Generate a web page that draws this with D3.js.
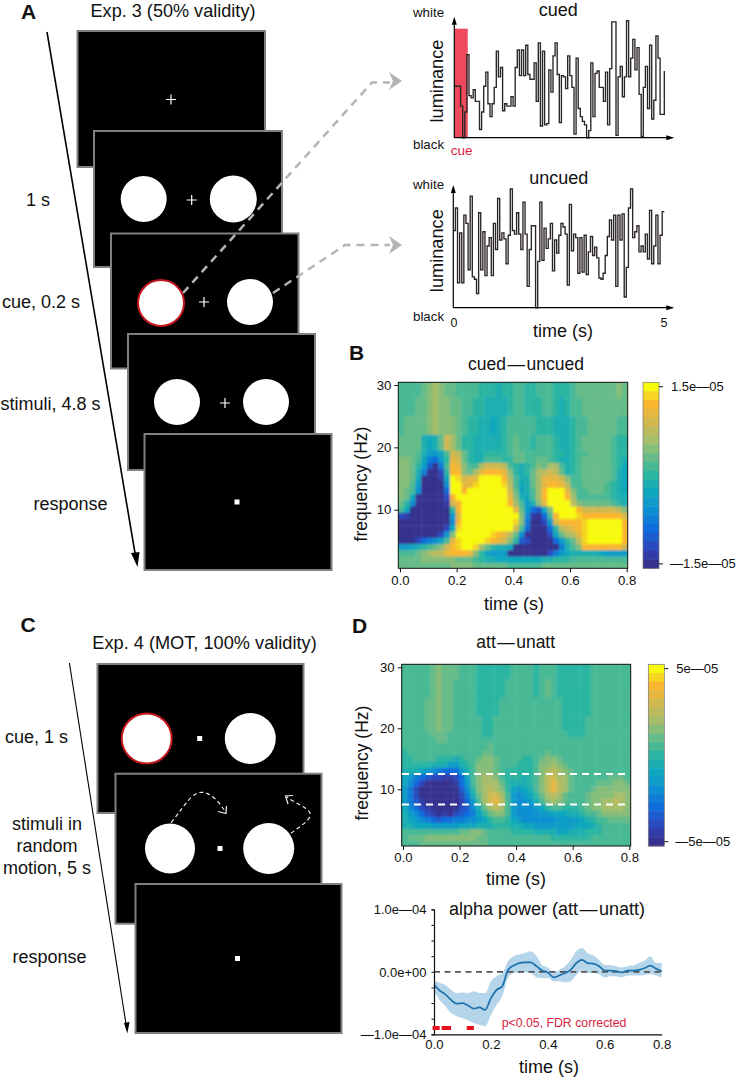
<!DOCTYPE html>
<html><head><meta charset="utf-8">
<script src="https://cdn.jsdelivr.net/npm/d3@7"></script>
<style>html,body{margin:0;background:#fff}svg{display:block}text{font-family:"Liberation Sans",Arial,sans-serif;fill:#111}</style>
</head><body><svg id="c" width="739" height="1079"><defs><filter id="soft" x="-2%" y="-2%" width="104%" height="104%"><feGaussianBlur stdDeviation="0.8"/></filter><filter id="soft2" x="-2%" y="-2%" width="104%" height="104%"><feGaussianBlur stdDeviation="0.35"/></filter></defs></svg>
<script>
// ---------- data ----------
const cuedTrace=[44,44,44,27,0,22,71,36,34,41,31,31,7,22,44,56,29,18,29,43,74,52,60,23,29,27,27,35,27,60,75,53,75,53,79,54,50,50,64,31,81,10,74,11,12,58,39,70,81,54,13,53,52,42,70,53,43,3,68,25,18,14,11,0,6,64,18,55,57,43,43,31,56,11,59,99,99,2,52,61,35,52,100,52,68,84,58,77,37,1,43,61,25,79,16,32,87,68,20,20,57];
const uncuedTrace=[65,84,21,63,21,78,71,32,94,26,24,12,80,32,64,27,52,59,27,71,49,92,57,63,58,37,61,100,65,62,80,62,49,89,62,18,49,69,69,0,39,89,40,67,50,58,71,31,57,46,61,71,68,62,19,87,48,62,59,29,59,30,61,28,47,60,44,51,42,25,24,29,44,60,74,57,78,18,78,57,79,9,34,84,100,59,64,69,47,52,47,62,41,82,37,52,78,37,61,81,81];
const cueSpan=[0,0.32];
const rowEdges=[30.5,28,25,22,19.5,18.5,17.5,16.5,15.5,14.5,13.5,12.5,11.5,10.5,9.5,8.5,7.5,6.5,5.5,4.5,3.5,2.5,1.5,0.5];
const heatB=[
[1,1,1,1,2,3,4,3,2,2,1,1,1,1,0,0,0,-1,0,0,1,1,0,0,1,1,1,0,0,0,1,2,2,2,2,2,2,2,3,2],
[1,1,1,2,2,3,4,3,3,2,2,1,1,0,0,-1,-1,-1,-1,0,1,1,0,0,0,1,1,0,-1,0,1,1,2,2,2,2,2,2,2,2],
[1,2,2,2,2,3,4,3,3,3,2,1,0,0,-1,-1,-2,-1,0,1,1,1,1,1,0,0,0,-1,-1,-1,0,1,1,2,2,2,2,2,1,1],
[2,2,2,2,-1,-2,-1,2,6,4,2,0,0,-1,-1,-1,-1,-1,0,1,2,1,1,0,1,1,1,0,-1,-1,0,1,2,2,2,2,2,1,0,0],
[2,2,2,1,-1,-3,-3,-2,1,6,5,2,0,-1,-1,0,0,0,0,1,2,2,1,1,1,1,1,0,0,-1,0,1,1,2,2,2,2,1,0,0],
[3,3,2,1,-2,-5,-6,-3,0,7,6,2,0,-1,-1,1,1,1,0,0,2,2,1,1,2,2,1,0,-1,-1,0,1,2,2,2,2,2,1,0,-1],
[3,3,2,0,-3,-7,-10,-5,1,8,7,3,1,1,4,6,6,6,5,1,0,-1,0,1,3,2,4,4,1,-1,0,1,2,2,2,2,2,1,0,-2],
[3,3,2,-1,-5,-10,-10,-8,0,8,8,3,2,4,7,8,8,8,7,3,0,-1,0,2,4,5,6,5,2,-1,0,1,2,2,2,2,2,1,-1,-2],
[3,3,2,-2,-10,-10,-10,-9,-2,10,9,6,7,7,10,10,10,10,8,4,1,-1,-1,2,4,7,7,7,6,3,1,1,2,2,2,2,2,1,-1,-2],
[3,3,1,-3,-10,-10,-10,-10,-4,10,10,7,7,9,10,10,10,10,9,5,1,-2,-1,2,4,7,8,8,7,5,1,1,2,2,2,2,1,0,-1,-2],
[3,2,1,-4,-10,-10,-10,-10,-6,10,10,8,10,10,10,10,10,10,10,6,2,-2,-1,1,4,8,10,10,10,7,3,1,1,2,2,2,1,0,-1,-2],
[3,2,-2,-10,-10,-10,-10,-10,-8,8,10,10,10,10,10,10,10,10,10,7,3,-1,-2,1,4,8,10,10,10,8,4,1,1,1,1,1,1,0,-1,-1],
[2,0,-4,-10,-10,-10,-10,-10,-9,6,8,10,10,10,10,10,10,10,10,8,4,1,-3,-1,3,7,10,10,10,10,5,3,2,2,2,2,2,1,0,-1],
[1,-2,-10,-10,-10,-10,-10,-10,-10,0,8,10,10,10,10,10,10,10,10,10,7,2,-3,-6,-7,-2,3,10,10,10,10,8,6,6,6,6,6,6,5,3],
[-8,-9,-10,-10,-10,-10,-10,-10,-10,-3,7,10,10,10,10,10,10,10,10,10,10,3,-4,-9,-10,-6,1,8,10,10,10,9,8,8,8,8,8,8,8,6],
[-10,-10,-10,-10,-10,-10,-10,-10,-10,-4,8,10,10,10,10,10,10,10,10,10,9,3,-5,-10,-10,-8,-3,6,8,8,8,8,9,10,10,10,10,10,10,8],
[-10,-10,-10,-10,-10,-10,-10,-10,-8,-2,9,10,10,10,10,10,10,10,10,10,6,1,-6,-10,-10,-10,-6,0,5,6,7,8,9,10,10,10,10,10,10,8],
[-10,-10,-10,-10,-10,-10,-10,-8,-3,3,10,10,10,10,10,10,9,8,7,5,2,-4,-10,-10,-10,-10,-8,-2,2,4,5,7,9,10,10,10,10,10,10,8],
[-10,-10,-10,-8,-6,-5,-4,-2,1,7,9,10,10,10,10,9,8,7,6,3,0,-7,-8,-10,-10,-10,-10,-6,-3,0,2,5,9,10,10,10,10,10,10,8],
[-3,-3,-2,-1,0,1,2,3,6,8,9,10,10,9,4,2,0,-1,-1,-2,-10,-10,-10,-10,-10,-10,-10,-10,-5,-1,1,3,8,8,8,8,8,8,8,6],
[1,1,1,2,3,4,5,5,7,8,8,8,7,3,0,-2,-3,-3,-3,-10,-10,-10,-10,-10,-10,-10,-8,-5,-3,-2,-1,-1,-1,-1,-1,-2,-3,-3,-3,-3],
[2,2,2,2,3,3,3,3,3,3,2,2,2,1,0,-1,-1,-2,-2,-2,-2,-2,-2,-2,-2,-1,-1,0,0,0,1,1,1,1,1,1,1,1,1,1],
[2,2,2,2,2,2,2,2,2,3,3,3,3,2,2,2,2,2,2,1,1,1,1,1,1,2,2,2,2,2,2,2,2,2,2,2,2,2,2,2]];
const heatD=[
[1,1,1,1,1,2,3,2,2,2,1,1,1,0,0,0,0,0,0,1,1,1,1,0,1,1,1,0,0,0,0,0,0,1,1,1,1,1,1,1],
[1,1,1,1,1,2,3,2,2,1,1,1,1,0,0,0,0,0,1,1,1,1,1,0,1,2,1,0,0,0,0,0,0,1,1,1,1,1,1,1],
[1,1,1,1,2,2,3,2,2,1,1,1,1,0,0,0,0,1,1,1,1,1,1,1,1,1,1,1,0,0,0,0,0,1,1,1,1,1,1,1],
[1,1,1,1,2,2,3,2,2,1,1,1,1,1,0,0,1,1,1,1,1,1,1,1,1,1,1,1,0,0,0,0,1,1,1,1,1,1,1,1],
[1,1,1,1,1,2,2,2,1,1,1,1,1,1,0,0,1,1,1,1,1,1,1,1,1,1,1,1,1,0,0,0,1,1,1,1,1,1,1,1],
[1,1,1,1,1,1,2,2,1,1,1,1,1,1,1,1,1,1,1,1,1,1,1,1,1,1,1,1,1,1,1,1,1,1,1,1,1,1,1,1],
[1,1,1,1,1,1,1,1,1,1,1,1,1,1,1,2,1,1,1,1,1,1,1,1,1,1,1,1,1,1,1,1,1,1,1,1,1,1,1,1],
[0,1,1,1,1,1,1,1,1,1,1,1,1,1,2,2,1,1,1,1,1,1,1,1,1,2,1,1,1,1,1,1,1,1,1,1,1,1,1,1],
[0,0,1,1,1,1,0,0,0,-1,0,1,1,2,3,3,2,1,1,1,1,0,0,1,2,3,3,2,1,1,1,1,1,1,1,1,1,1,1,1],
[0,0,0,0,0,-1,-1,-1,-3,-3,-1,0,1,3,3,3,2,1,1,1,0,0,0,1,3,3,4,3,2,1,1,1,1,1,1,1,1,1,1,1],
[-1,-1,-1,-2,-3,-4,-5,-6,-6,-6,-3,-1,1,3,3,3,2,1,0,0,0,0,0,1,3,4,5,4,3,2,1,1,1,1,1,1,1,1,1,1],
[-2,-3,-5,-6,-7,-8,-8,-9,-9,-8,-6,-2,1,3,4,4,3,1,0,0,0,-1,0,1,3,5,6,4,4,2,1,1,1,1,1,1,2,2,2,1],
[-2,-4,-6,-8,-10,-10,-10,-10,-10,-9,-6,-3,1,3,4,4,4,2,0,-1,-1,-1,0,1,3,5,7,5,4,2,1,1,1,1,2,2,2,3,3,2],
[-3,-5,-8,-10,-10,-10,-10,-10,-10,-10,-7,-4,0,3,4,5,4,3,0,-2,-3,-2,-1,1,3,5,7,5,4,2,1,1,1,2,3,3,3,3,3,3],
[-3,-5,-8,-10,-10,-10,-10,-10,-10,-10,-8,-5,-1,2,4,6,6,4,1,-3,-4,-3,-2,0,2,4,5,4,2,1,1,1,2,3,3,3,3,4,4,3],
[-3,-5,-7,-9,-10,-10,-10,-10,-10,-10,-9,-6,-3,1,4,6,7,5,1,-3,-4,-4,-3,-1,1,3,4,3,2,1,1,1,2,3,3,4,4,5,4,3],
[-2,-4,-6,-8,-9,-10,-10,-10,-10,-10,-8,-7,-4,-1,2,4,5,4,1,-3,-4,-4,-4,-3,-2,0,1,1,0,0,0,1,2,3,3,4,4,4,4,3],
[-1,-3,-4,-6,-8,-9,-10,-9,-10,-8,-7,-6,-5,-2,0,2,3,3,1,-3,-4,-4,-4,-4,-3,-3,-2,-2,-2,-1,-1,0,1,1,2,3,3,3,3,3],
[-1,-2,-3,-4,-5,-6,-7,-6,-6,-5,-5,-4,-4,-3,-2,0,1,1,0,-2,-3,-4,-4,-4,-4,-4,-4,-3,-3,-3,-3,-2,-1,0,1,1,2,2,2,2],
[-1,-1,-2,-2,-2,-3,-3,-3,-3,-3,-2,-2,-2,-1,-1,-1,0,0,0,-1,-1,-2,-2,-3,-3,-3,-3,-3,-3,-3,-2,-2,-2,-1,0,1,1,1,1,1],
[1,1,1,1,1,1,1,1,1,1,2,2,3,3,2,1,1,1,1,0,0,0,0,-1,-1,-1,-1,-2,-2,-1,-1,-1,0,0,0,1,1,1,1,1],
[1,2,2,2,3,3,3,3,3,3,3,3,3,2,2,1,1,1,1,1,1,1,1,1,1,1,0,0,0,0,0,0,0,1,1,1,1,1,1,1],
[1,1,1,2,2,2,2,2,2,2,2,2,2,2,2,1,1,1,1,1,1,1,1,1,1,1,1,1,1,1,1,1,1,1,1,1,1,1,1,1]];
const colorLevels=[10,9,8,7,6,5,4,3,2,1,0,-1,-2,-3,-4,-5,-6,-7,-8,-9,-10];
const colorDomain=[-10,-8,-6,-4,-2,0,2,4,6,8,9,10];
const colorRange=["#36308e","#2a4ac0","#0f6cdc","#0d8ed2","#0ea7bd","#2ab5a2","#66bc88","#a6bd6a","#d0b94f","#fbb62f","#f6d523","#f8fa0d"];
const alphaBand=[7.5,12.5];
const alphaTime=[0,.02,.04,.06,.08,.10,.12,.14,.16,.18,.20,.22,.24,.26,.28,.30,.32,.34,.36,.38,.40,.42,.44,.46,.48,.50,.52,.54,.56,.58,.60,.62,.64,.66,.68,.70,.72,.74,.76,.78,.80];
const alphaMean=[-2.1,-3.0,-3.6,-4.5,-5.1,-5.0,-5.4,-5.9,-5.7,-6.1,-4.2,-2.9,-2.3,0.3,1.0,1.4,1.5,1.5,0.9,0.2,-0.1,-0.9,-0.6,-0.2,0.3,1.4,1.9,1.4,1.3,0.9,0.2,0.2,0.1,-0.1,0.2,0.2,0.3,0.6,1.0,0.5,0.1];
const alphaUpper=[-1.3,-1.8,-2.1,-2.9,-3.4,-3.3,-3.4,-3.1,-3.4,-3.4,-1.5,-0.7,-0.2,1.7,2.5,2.8,3.0,3.3,2.5,1.1,0.7,-0.1,0.3,0.9,1.9,3.3,3.8,3.0,2.6,1.9,1.1,1.1,0.9,0.7,0.9,1.0,1.4,1.8,2.5,1.4,1.4];
const alphaLower=[-3.1,-4.5,-5.5,-6.6,-7.1,-7.4,-7.8,-8.2,-8.5,-8.7,-6.9,-5.3,-3.9,-1.0,-0.2,-0.1,-0.1,-0.2,-0.9,-1.0,-1.0,-1.5,-1.5,-1.7,-1.5,-0.5,0.2,-0.2,-0.2,-0.4,-0.9,-0.7,-0.7,-0.9,-0.6,-0.6,-0.6,-0.5,-0.4,-0.6,-0.9];
const sigSpans=[[-0.005,0.02],[0.027,0.06],[0.115,0.14]];
const timeTicks=[0,0.2,0.4,0.6,0.8];
const freqTicks=[10,20,30];

// ---------- helpers ----------
const svg=d3.select("#c");
const color=d3.scaleLinear().domain(colorDomain).range(colorRange);
function txt(x,y,s,size,opt={}){
  const t=svg.append("text").attr("x",x).attr("y",y).attr("dominant-baseline","central")
    .attr("font-size",size).attr("text-anchor",opt.anchor||"start").text(s);
  if(opt.weight)t.attr("font-weight",opt.weight).style("font-weight",opt.weight);
  if(opt.fill)t.style("fill",opt.fill);
  if(opt.rot)t.attr("transform",`rotate(${opt.rot} ${x} ${y})`);
  return t;
}
function frame(x,y,w,h){svg.append("rect").attr("x",x).attr("y",y).attr("width",w).attr("height",h).attr("fill","#000").attr("stroke","#808080").attr("stroke-width",2);}
function disc(x,y,r,red){svg.append("circle").attr("cx",x).attr("cy",y).attr("r",r).attr("fill","#fff").attr("stroke",red?"#c4161c":"none").attr("stroke-width",red?2:0);}
function cross(x,y){svg.append("path").attr("d",`M${x-5},${y}H${x+5}M${x},${y-5}V${y+5}`).attr("stroke","#fff").attr("stroke-width",1.2).attr("fill","none");}
function sq(x,y){svg.append("rect").attr("x",x-2.5).attr("y",y-2.5).attr("width",5).attr("height",5).attr("fill","#fff");}
function line(d,c,w,dash){const p=svg.append("path").attr("d",d).attr("fill","none").attr("stroke",c).attr("stroke-width",w);if(dash)p.attr("stroke-dasharray",dash);return p;}
function poly(d,c){svg.append("path").attr("d",d).attr("fill",c);}

// ---------- panel A, C schematics ----------
frame(77.5,31,187.5,136);
cross(171,99.5);
frame(94,131,188,136);disc(143.7,199,23);disc(233.3,199,23.5);cross(191.7,200);
frame(111,233.5,187.5,135);disc(161,303,23,true);disc(250,302,23);cross(204,302);
frame(128,334,187,136);disc(177,402,23);disc(266,402,23);cross(225,403);
frame(144.5,434,187,136);sq(237,502);
line("M47,32L135.5,556","#000",1.6);poly("M137.5,567L131,553L139.5,552Z","#000");
line("M183,293L349,108L372,82.5H390","#b4b4b4",2.5,"8 6");
line("M273,293L345,245H390","#b4b4b4",2.5,"8 6");
poly("M389,72L402,81L389,90L393,81Z","#b4b4b4");
poly("M389,236L402,245L389,254L393,245Z","#b4b4b4");

frame(97.5,664,206,149);disc(146.7,738.5,25,true);disc(250.3,738.5,25.5);sq(199.7,738.5);
frame(115.5,773.7,206,150);disc(170,848.5,25);disc(268.7,848.5,25.5);sq(220,848.5);
line("M171,822.7C186,804 192,792 202,792.3C212,793 220,803 226,813","#eee",1.2,"4 3");
line("M218,811.5L226,813.5L226.5,806","#eee",1.2);
line("M291,833.3C300,826 312,820 310,813C307,807 294,803 286.7,796.7","#eee",1.2,"4 3");
line("M293,795.5L285.5,796L288,804","#eee",1.2);
frame(135.5,884,206,149);sq(237.5,958.5);
line("M69.4,663L126.3,1026","#000",1.1);poly("M127.3,1033.5L124,1023L129.5,1022Z","#000");

txt(21,11,"A",21,{weight:"bold"});
txt(173,11,"Exp. 3 (50% validity)",18.1,{anchor:"middle"});
txt(26,200,"1 s",18);
txt(2,302,"cue, 0.2 s",18);
txt(0.5,404,"stimuli, 4.8 s",18);
txt(33.5,504,"response",18);
txt(20.5,624,"C",21,{weight:"bold"});
txt(204.5,643,"Exp. 4 (MOT, 100% validity)",18.2,{anchor:"middle"});
txt(5,737,"cue, 1 s",18);
txt(47,824,"stimuli in",18,{anchor:"middle"});
txt(47,846,"random",18,{anchor:"middle"});
txt(47,868,"motion, 5 s",18,{anchor:"middle"});
txt(12.5,957,"response",18);
txt(349,352,"B",21,{weight:"bold"});
txt(352,625,"D",21,{weight:"bold"});

// ---------- luminance traces ----------
function trace(vals,y0,y100,x0,x1,title,ty,lumY,wY,bY,span){
  const x=d3.scaleLinear().domain([0,5]).range([x0,x1]);
  const y=d3.scaleLinear().domain([0,100]).range([y0,y100]);
  if(span)svg.append("rect").attr("x",x(span[0])).attr("width",x(span[1])-x(span[0])).attr("y",y(100)+8).attr("height",y0-y(100)-8).attr("fill","#ee4a5c");
  const l=d3.line().x((d,i)=>x(i*5/(vals.length-1))).y(d=>y(d)).curve(d3.curveStepAfter);
  svg.append("path").attr("d",l(vals)).attr("fill","none").attr("stroke","#2b2526").attr("stroke-width",1.35).attr("filter","url(#soft2)");
  line(`M${x0},${y0}V${y100-1}`,"#000",1.2);
  poly(`M${x0-2.5},${y100+4}L${x0},${y100-4}L${x0+2.5},${y100+4}Z`,"#000");
  line(`M${x0},${y0}H${x1+3}`,"#000",1.2);
  poly(`M${x1+2},${y0-2.5}L${x1+10},${y0}L${x1+2},${y0+2.5}Z`,"#000");
  txt((x0+x1)/2+(title==="cued"?-1:0),ty,title,18,{anchor:"middle"});
  txt(437,lumY,"luminance",18.2,{anchor:"middle",rot:-90});
  txt(413,wY,"white",13.3);txt(413,bY,"black",13.3);
}
trace(cuedTrace,137.7,20.7,454.3,664.3,"cued",9.5,81,12,144,cueSpan);
txt(450.7,150.7,"cue",13.5,{fill:"#d9243f"});
trace(uncuedTrace,307.7,189,453.3,664.3,"uncued",178,250.7,184,316,null);
txt(454,323,"0",12.5,{anchor:"middle"});
txt(664,323,"5",12.5,{anchor:"middle"});
txt(563,331,"time (s)",18,{anchor:"middle"});

// ---------- heatmaps ----------
function heat(o){
  const clipId="clip"+o.id;
  svg.select("defs").append("clipPath").attr("id",clipId).append("rect").attr("x",o.left).attr("y",o.top).attr("width",o.right-o.left).attr("height",o.bottom-o.top);
  const g=svg.append("g").attr("clip-path",`url(#${clipId})`).append("g").attr("filter","url(#soft)");
  const col=d3.scaleBand().domain(d3.range(o.grid[0].length)).range([o.left,o.right]);
  const fy=d3.scaleLinear().domain([30,10]).range([o.y30,o.y10]);
  const tx=d3.scaleLinear().domain([0,0.8]).range([o.x0,o.x8]);
  o.grid.forEach((row,r)=>{
    const top=r===0?o.top-3:fy(rowEdges[r]), bot=r===o.grid.length-1?o.bottom+3:fy(rowEdges[r+1]);
    g.selectAll(null).data(row).enter().append("rect")
      .attr("x",(d,i)=>i===0?col(i)-3:col(i)).attr("width",(d,i)=>(i===0||i===row.length-1?3:0)+col.bandwidth()+.4)
      .attr("y",top).attr("height",bot-top+.4)
      .attr("fill",d=>color(d));
  });
  svg.append("rect").attr("x",o.left).attr("y",o.top).attr("width",o.right-o.left).attr("height",o.bottom-o.top)
    .attr("fill","none").attr("stroke","#111").attr("stroke-width",1);
  const ax=svg.append("g").attr("transform",`translate(0,${o.bottom})`)
    .call(d3.axisBottom(tx).tickValues(timeTicks).tickFormat(d3.format(".1f")).tickSize(4).tickPadding(3));
  const ay=svg.append("g").attr("transform",`translate(${o.left},0)`)
    .call(d3.axisLeft(fy).tickValues(freqTicks).tickSize(4).tickPadding(3));
  [ax,ay].forEach(a=>{a.select(".domain").remove();a.selectAll("text").attr("font-size",13.2).style("font-family",'"Liberation Sans"').style("fill","#111");a.selectAll("line").attr("stroke","#111");});
  txt(o.xlabelX,o.xlabelY,"time (s)",18,{anchor:"middle"});
  txt(o.ylabelX,o.ylabelY,"frequency (Hz)",17.5,{anchor:"middle",rot:-90});
  txt(o.titleX,o.titleY,o.title,17.5,{anchor:"middle"});
  // colour bar
  const band=d3.scaleBand().domain(colorLevels).range([o.top,o.bottom]);
  svg.selectAll(null).data(colorLevels).enter().append("rect")
    .attr("x",o.cbX).attr("width",16).attr("y",d=>band(d)).attr("height",band.bandwidth()+.4).attr("fill",d=>color(d));
  svg.append("rect").attr("x",o.cbX).attr("y",o.top).attr("width",16).attr("height",o.bottom-o.top).attr("fill","none").attr("stroke","#777").attr("stroke-width",.7);
  [[10,o.cbHi],[-10,o.cbLo]].forEach(([lv,s])=>{
    const yy=band(lv)+band.bandwidth()/2;
    line(`M${o.cbX+16},${yy}h4`,"#111",1);
    txt(o.cbX+ (lv>0?28:27),yy,s,13);
  });
  return {tx,fy};
}
const dash="\u200a\u2014\u200a";
heat({id:"B",grid:heatB,left:398.3,right:627.7,top:382.3,bottom:568.3,y30:385,y10:509.7,x0:400,x8:626.7,
  xlabelX:514,xlabelY:604,ylabelX:361,ylabelY:484,title:"cued"+dash+"uncued",titleX:526,titleY:364,cbX:643,cbHi:"1.5e—05",cbLo:"—1.5e—05"});
const hD=heat({id:"D",grid:heatD,left:401.7,right:630.7,top:664.3,bottom:846,y30:667.3,y10:789.3,x0:403,x8:629.3,
  xlabelX:516,xlabelY:879,ylabelX:362,ylabelY:763,title:"att"+dash+"unatt",titleX:515.7,titleY:642,cbX:648.3,cbHi:"5e—05",cbLo:"—5e—05"});
alphaBand.forEach(f=>line(`M402,${hD.fy(f)}H630`,"#fff",2,"7 5"));

// ---------- alpha power ----------
const ax=d3.scaleLinear().domain([0,0.8]).range([434,661.7]);
const ay=d3.scaleLinear().domain([-10,10]).range([1034.3,909.3]);
svg.append("path").datum(alphaTime).attr("fill","#b5d5ea")
  .attr("d",d3.area().x(d=>ax(d)).y0((d,i)=>ay(alphaLower[i])).y1((d,i)=>ay(alphaUpper[i])).curve(d3.curveMonotoneX));
line(`M${ax(0)},${ay(0)}H${ax(0.8)}`,"#555",1.8,"6 4.5");
svg.append("path").datum(alphaTime).attr("fill","none").attr("stroke","#1b72ad").attr("stroke-width",1.7)
  .attr("d",d3.line().x(d=>ax(d)).y((d,i)=>ay(alphaMean[i])).curve(d3.curveMonotoneX));
const xa=svg.append("g").attr("transform",`translate(0,${ay(-10)})`).call(d3.axisBottom(ax).tickValues(timeTicks).tickFormat(d3.format(".1f")).tickSize(0).tickPadding(5));
const ya=svg.append("g").attr("transform",`translate(${ax(0)},0)`).call(d3.axisLeft(ay).tickValues(d3.range(-10,10.1,2.5)).tickSize(2.5).tickFormat(""));
[xa,ya].forEach(a=>{a.select(".domain").attr("stroke","#111").attr("stroke-width",1.2);a.selectAll("text").attr("font-size",13.2).style("font-family",'"Liberation Sans"').style("fill","#111");a.selectAll("line").attr("stroke","#111");});
svg.selectAll(null).data(sigSpans).enter().append("rect").attr("x",d=>ax(d[0])).attr("width",d=>ax(d[1])-ax(d[0])).attr("y",1026).attr("height",4).attr("fill","#e8101c");
txt(426.5,909.5,"1.0e—04",13,{anchor:"end"});
txt(426.5,972,"0.0e+00",13,{anchor:"end"});
txt(426.5,1034.5,"—1.0e—04",13,{anchor:"end"});
txt(547,909,"alpha power (att"+dash+"unatt)",18,{anchor:"middle"});
txt(501.7,1023,"p<0.05, FDR corrected",12.3,{fill:"#d9243f"});
txt(549,1067,"time (s)",18,{anchor:"middle"});
</script></body></html>
